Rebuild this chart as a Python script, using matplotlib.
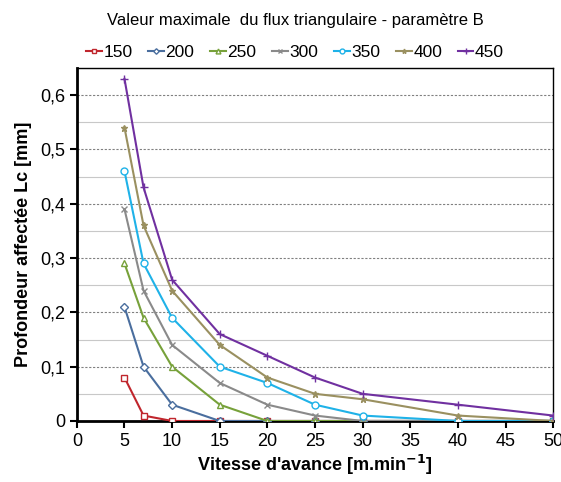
import numpy as np
import matplotlib.pyplot as plt
from matplotlib.ticker import MultipleLocator, FuncFormatter

plt.rcParams['font.family'] = ['Liberation Sans', 'DejaVu Sans']

## Donnees
vitesse = [5, 7, 10, 15, 20, 25, 30, 40, 50]
labels = ['150', '200', '250', '300', '350', '400', '450']
lc150 = [0.08, 0.01, 0.0, 0.0, 0.0, 0.0, 0.0, 0.0, 0.0]
lc200 = [0.21, 0.10, 0.03, 0.0, 0.0, 0.0, 0.0, 0.0, 0.0]
lc250 = [0.29, 0.19, 0.10, 0.03, 0.0, 0.0, 0.0, 0.0, 0.0]
lc300 = [0.39, 0.24, 0.14, 0.07, 0.03, 0.01, 0.0, 0.0, 0.0]
lc350 = [0.46, 0.29, 0.19, 0.10, 0.07, 0.03, 0.01, 0.0, 0.0]
lc400 = [0.54, 0.36, 0.24, 0.14, 0.08, 0.05, 0.04, 0.01, 0.0]
lc450 = [0.63, 0.43, 0.26, 0.16, 0.12, 0.08, 0.05, 0.03, 0.01]
series = [lc150, lc200, lc250, lc300, lc350, lc400, lc450]

couleurs = ['#C0262D', '#4A6E9E', '#77A13A', '#8A8A8A', '#1FB2E8', '#9A9060', '#7030A0']
marqueurs = ['s', 'D', '^', 'x', 'o', '*', '+']
tailles = [5, 4, 5, 5, 5, 5, 6]

fig = plt.figure(figsize=(5.61, 4.82), dpi=100)
ax = fig.add_axes([0.137, 0.1266, 0.849, 0.7324])

for i in range(len(series)):
	ax.plot(vitesse, series[i], '-', color=couleurs[i], marker=marqueurs[i],
		markersize=tailles[i], markerfacecolor='white' if marqueurs[i] in 'sD^o' else couleurs[i],
		markeredgewidth=1.0, linewidth=1.5, label=labels[i], zorder=3 + i * 0.01)

ax.set_xlim(0, 50)
ax.set_ylim(0, 0.65)
ax.xaxis.set_major_locator(MultipleLocator(5))
ax.yaxis.set_major_locator(MultipleLocator(0.1))
ax.yaxis.set_minor_locator(MultipleLocator(0.05))
ax.yaxis.set_major_formatter(FuncFormatter(lambda v, p: ('%g' % round(v, 2)).replace('.', ',')))
ax.tick_params(axis='both', which='major', direction='out', length=5, width=1.5, labelsize=13, colors='black')
ax.tick_params(axis='y', which='minor', length=0)
ax.grid(axis='y', which='major', color='#808080', linestyle=(0, (2, 1.5)), linewidth=0.8, zorder=0)
ax.grid(axis='y', which='minor', color='#C8C8C8', linestyle='-', linewidth=0.8, zorder=0)
ax.set_axisbelow(True)

ax.spines['left'].set_linewidth(2)
ax.spines['bottom'].set_linewidth(2)
ax.spines['top'].set_linewidth(1)
ax.spines['right'].set_linewidth(1)

ax.set_xlabel(r"Vitesse d'avance [m.min$^{\mathbf{-1}}$]", fontsize=13, fontweight='bold', labelpad=2)
ax.set_ylabel('Profondeur affectée Lc [mm]', fontsize=13, fontweight='bold', labelpad=6)

fig.text(0.526, 0.958, 'Valeur maximale  du flux triangulaire - paramètre B', ha='center', va='center', fontsize=12)
fig.legend(loc='center', bbox_to_anchor=(0.526, 0.892), ncol=7, frameon=False, fontsize=12.5,
	handlelength=0.9, handletextpad=0.1, columnspacing=0.9, markerscale=0.7)

fig.savefig('out.png', dpi=100)
